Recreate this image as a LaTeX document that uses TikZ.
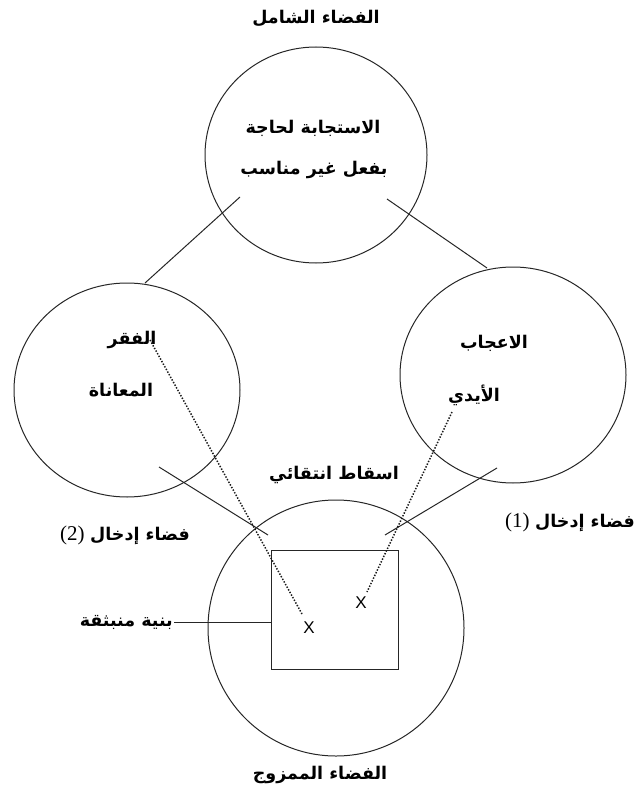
\documentclass[tikz,border=0pt]{standalone}
\usepackage{fontspec}
\usetikzlibrary{shapes.geometric}
\TeXXeTstate=1
\newfontfamily\arabicfont[Script=Arabic]{DejaVu Sans}
\newfontfamily\serifnum{Liberation Serif}
\newfontfamily\sanslat{Liberation Sans}
\newcommand{\ar}[1]{{\arabicfont\bfseries\beginR #1\endR}}
\tikzset{
  space/.style={ellipse, draw=black!85, line width=1pt, inner sep=0pt, outer sep=0pt},
  lbl/.style={inner sep=1pt, font=\arabicfont\fontsize{17.5}{20}\selectfont},
  link/.style={draw=black!85, line width=1pt},
  proj/.style={draw=black!90, line width=1.5pt, dash pattern=on 1.4pt off 1.6pt},
  xmark/.style={inner sep=0pt, font=\sanslat\fontsize{17}{19}\selectfont},
}
\begin{document}
\begin{tikzpicture}[x=1pt,y=-1pt]
\useasboundingbox (0,0) rectangle (639,789);
% spaces
\node[space, minimum width=222pt, minimum height=216pt] (generic) at (316,155) {};
\node[space, minimum width=226pt, minimum height=214pt] (input2) at (127,390) {};
\node[space, minimum width=226pt, minimum height=216pt] (input1) at (513,375) {};
\node[space, minimum width=256pt, minimum height=256pt] (blend) at (336,628) {};
\node[draw=black!85, line width=1pt, minimum width=127pt, minimum height=119pt, inner sep=0pt, outer sep=0pt] (emergent) at (334.5,609.5) {};
% labels
\node[lbl] (tGeneric) at (316,18) {\ar{الفضاء الشامل}};
\node[lbl] (g1) at (313,128) {\ar{الاستجابة لحاجة}};
\node[lbl] (g2) at (314,170) {\ar{بفعل غير مناسب}};
\node[lbl] (faqr) at (132,340) {\ar{الفقر}};
\node[lbl] (muanat) at (121,390) {\ar{المعاناة}};
\node[lbl] (iajab) at (494,343) {\ar{الاعجاب}};
\node[lbl] (aydi) at (474,395) {\ar{الأيدي}};
\node[lbl] (sel) at (334,475) {\ar{اسقاط انتقائي}};
\node[lbl] (in2) at (125,535) {{\serifnum\fontsize{21}{23}\selectfont (2)}~\ar{فضاء إدخال}};
\node[lbl] (in1) at (570,522) {{\serifnum\fontsize{21}{23}\selectfont (1)}~\ar{فضاء إدخال}};
\node[lbl, anchor=east] (emlbl) at (174,622) {\ar{بنية منبثقة}};
\node[lbl] (tBlend) at (320,775) {\ar{الفضاء الممزوج}};
\node[xmark] (x1) at (309,628) {X};
\node[xmark] (x2) at (361,603) {X};
% connector end points
\coordinate (a1) at (240,197);
\coordinate (a2) at (145,283);
\coordinate (b1) at (387,199);
\coordinate (b2) at (487,268);
\coordinate (c1) at (159,467);
\coordinate (c2) at (268,535);
\coordinate (d1) at (497,468);
\coordinate (d2) at (385,535);
\coordinate (p1) at (150,340);
\coordinate (p1e) at (302,614);
\coordinate (p2) at (452,412);
\coordinate (p2e) at (367,592);
% connectors
\draw[link] (a1) -- (a2);
\draw[link] (b1) -- (b2);
\draw[link] (c1) -- (c2);
\draw[link] (d1) -- (d2);
\draw[proj] (p1) -- (p1e);
\draw[proj] (p2) -- (p2e);
\draw[link] (emlbl.east) -- (emergent.west |- emlbl.east);
\end{tikzpicture}
\end{document}
